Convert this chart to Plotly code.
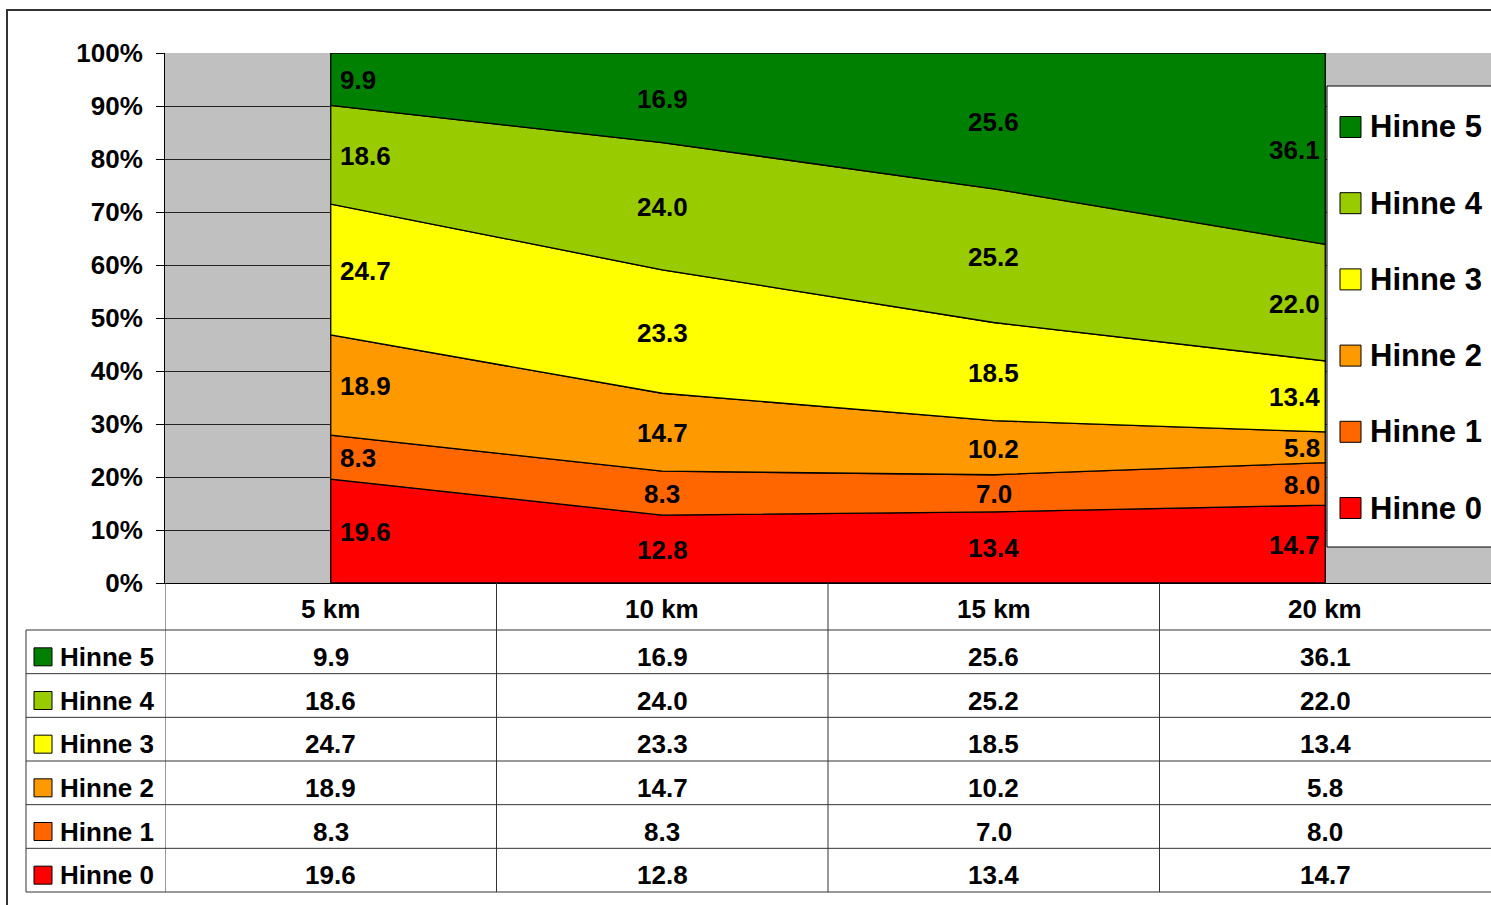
import plotly.graph_objects as go

# ---- data -------------------------------------------------------------
categories = ["5 km", "10 km", "15 km", "20 km"]
series_names = ["Hinne 0", "Hinne 1", "Hinne 2", "Hinne 3", "Hinne 4", "Hinne 5"]
hinne_0 = [19.6, 12.8, 13.4, 14.7]
hinne_1 = [8.3, 8.3, 7.0, 8.0]
hinne_2 = [18.9, 14.7, 10.2, 5.8]
hinne_3 = [24.7, 23.3, 18.5, 13.4]
hinne_4 = [18.6, 24.0, 25.2, 22.0]
hinne_5 = [9.9, 16.9, 25.6, 36.1]
y_tick_values = [0, 10, 20, 30, 40, 50, 60, 70, 80, 90, 100]
y_tick_labels = ["0%", "10%", "20%", "30%", "40%", "50%", "60%", "70%", "80%", "90%", "100%"]

series_values = [hinne_0, hinne_1, hinne_2, hinne_3, hinne_4, hinne_5]
colors = ["#FF0000", "#FF6600", "#FF9900", "#FFFF00", "#99CC00", "#008000"]

# ---- geometry ---------------------------------------------------------
W, H = 1491, 905
L, R, T, B = 165, 0, 53, 322
PW = W - L - R
PH = H - T - B
FONT = "Liberation Sans, Arial, sans-serif"


def px(x):
    """pixel column -> paper x"""
    return (x - L) / PW


def py(y):
    """pixel row -> paper y"""
    return (H - B - y) / PH


idx = list(range(len(categories)))
totals = [sum(s[i] for s in series_values) for i in idx]

fig = go.Figure()
annotations = []
shapes = []

# ---- 100% stacked areas -------------------------------------------------
bottom = [0.0] * len(idx)
for name, vals, col in zip(series_names, series_values, colors):
    pct = [v / t * 100 for v, t in zip(vals, totals)]
    top = [b + p for b, p in zip(bottom, pct)]
    xs = idx + idx[::-1] + [idx[0]]
    ys = top + bottom[::-1] + [top[0]]
    fig.add_trace(go.Scatter(
        x=xs, y=ys, mode="lines", fill="toself", fillcolor=col,
        line=dict(color="#000000", width=1.3), name=name,
        showlegend=False, hoverinfo="skip",
    ))
    for i in idx:
        anchor = "left" if i == idx[0] else ("right" if i == idx[-1] else "center")
        shift = 7 if i == idx[0] else (-3 if i == idx[-1] else 0)
        annotations.append(dict(
            x=i, y=(bottom[i] + top[i]) / 2, xref="x", yref="y",
            text=f"{vals[i]:.1f}", showarrow=False, xanchor=anchor, yanchor="middle",
            xshift=shift, yshift=-1,
            font=dict(family=FONT, size=26, color="#000000", weight="bold"),
        ))
    bottom = top

# ---- legend box -----------------------------------------------------------
leg_top, leg_bot = 86, 547
shapes.append(dict(type="rect", xref="paper", yref="paper",
                   x0=px(1327), x1=px(1500), y0=py(leg_bot), y1=py(leg_top),
                   fillcolor="#FFFFFF", line=dict(color="#000000", width=1), layer="above"))
leg_first, leg_step = 127, 76.2
for k, (name, col) in enumerate(zip(series_names[::-1], colors[::-1])):
    yc = leg_first + leg_step * k
    shapes.append(dict(type="rect", xref="paper", yref="paper",
                       x0=px(1340), x1=px(1361), y0=py(yc + 10.5), y1=py(yc - 10.5),
                       fillcolor=col, line=dict(color="#000000", width=1), layer="above"))
    annotations.append(dict(x=px(1368), y=py(yc), xref="paper", yref="paper",
                            text=name, showarrow=False, xanchor="left", yanchor="middle",
                            font=dict(family=FONT, size=31, color="#000000", weight="bold")))

# ---- data table -----------------------------------------------------------
head_top, head_bot, tab_bot = 583, 630, 892
row_h = (tab_bot - head_bot) / len(series_names)
line_col = "#333333"
for i, cat in enumerate(categories):
    annotations.append(dict(x=i, y=py((head_top + head_bot) / 2 + 2), xref="x", yref="paper",
                            text=cat, showarrow=False, xanchor="center", yanchor="middle",
                            font=dict(family=FONT, size=26, color="#000000", weight="bold")))
# vertical rules (column boundaries sit halfway between categories)
for edge in [idx[0] - 0.5] + [i + 0.5 for i in idx[:-1]]:
    shapes.append(dict(type="line", xref="x", yref="paper", x0=edge, x1=edge,
                       y0=py(head_top), y1=py(tab_bot), line=dict(color=line_col, width=1)))
shapes.append(dict(type="line", xref="paper", yref="paper", x0=px(26), x1=px(26),
                   y0=py(head_bot), y1=py(tab_bot), line=dict(color=line_col, width=1)))
# horizontal rules
for r in range(len(series_names) + 1):
    yy = head_bot + r * row_h
    shapes.append(dict(type="line", xref="paper", yref="paper", x0=px(26), x1=px(1500),
                       y0=py(yy), y1=py(yy), line=dict(color=line_col, width=1)))
# rows: Hinne 5 first
for r, (name, vals, col) in enumerate(zip(series_names[::-1], series_values[::-1], colors[::-1])):
    yc = head_bot + r * row_h + row_h / 2 + 5
    shapes.append(dict(type="rect", xref="paper", yref="paper",
                       x0=px(34), x1=px(52), y0=py(yc + 9), y1=py(yc - 9),
                       fillcolor=col, line=dict(color="#000000", width=1)))
    annotations.append(dict(x=px(58), y=py(yc), xref="paper", yref="paper",
                            text=name, showarrow=False, xanchor="left", yanchor="middle",
                            font=dict(family=FONT, size=26, color="#000000", weight="bold")))
    for i in idx:
        annotations.append(dict(x=i, y=py(yc), xref="x", yref="paper",
                                text=f"{vals[i]:.1f}", showarrow=False,
                                xanchor="center", yanchor="middle",
                                font=dict(family=FONT, size=26, color="#000000", weight="bold")))

# ---- outer frame ------------------------------------------------------------
shapes.append(dict(type="rect", xref="paper", yref="paper",
                   x0=px(7), x1=px(1520), y0=py(930), y1=py(10),
                   fillcolor="rgba(0,0,0,0)", line=dict(color="#333333", width=2)))

fig.update_layout(
    width=W, height=H,
    margin=dict(l=L, r=R, t=T, b=B, pad=0),
    paper_bgcolor="#FFFFFF", plot_bgcolor="#C0C0C0",
    showlegend=False,
    annotations=annotations, shapes=shapes,
    xaxis=dict(range=[idx[0] - 0.5, idx[-1] + 0.5], showticklabels=False, showgrid=False,
               zeroline=False, showline=True, linecolor="#000000", linewidth=1,
               ticks="", fixedrange=True),
    yaxis=dict(range=[0, 100], tickvals=y_tick_values, ticktext=y_tick_labels,
               showgrid=True, gridcolor="#222222", gridwidth=1, zeroline=False,
               showline=True, linecolor="#000000", linewidth=1,
               ticks="outside", ticklen=8, tickcolor="#000000", ticklabelstandoff=8,
               tickfont=dict(family=FONT, size=26, color="#000000", weight="bold"),
               fixedrange=True),
)

fig.write_html("out.html")
